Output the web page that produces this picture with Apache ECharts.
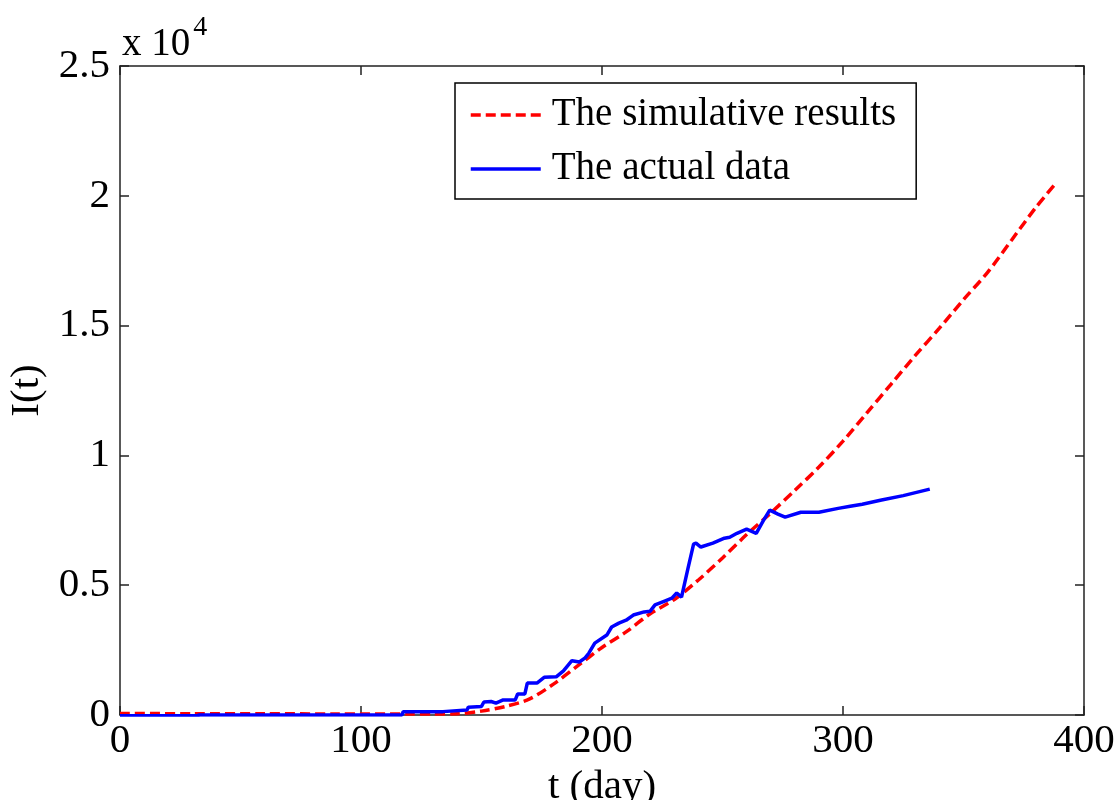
<!DOCTYPE html>
<html>
<head>
<meta charset="utf-8">
<script src="https://cdn.jsdelivr.net/npm/echarts@6/dist/echarts.min.js"></script>
<style>
  html, body { margin: 0; padding: 0; background: #fff; }
  #main { width: 1119px; height: 800px; }
</style>
</head>
<body>
<div id="main"></div>
<script>
// simulated curve: t (day) and I(t)
var simT = [0, 30, 60, 90, 120, 130, 140, 150, 160, 170, 180, 190, 200, 210, 220, 230, 240, 250,
  260, 270, 280, 290, 300, 310, 320, 330, 340, 350, 360, 370, 380, 388];
var simI = [60, 50, 50, 40, 40, 40, 50, 150, 330, 620, 1200, 1900, 2600, 3200, 3900, 4450, 5200, 6050,
  6950, 7780, 8650, 9550, 10550, 11650, 12750, 13850, 14900, 16000, 17050, 18300, 19550, 20450];

// actual data
var actT = [0, 32, 33, 117, 117.5, 134, 134.5, 144, 144.5, 150, 151, 154, 156, 159, 164, 165, 168, 169,
  173, 176, 181, 184, 187.5, 190.6, 193, 194.6, 197, 202, 204, 207, 210, 213, 217.5, 220, 222, 226, 229,
  231, 233, 235.7, 238, 239, 241, 246, 250.8, 253, 256, 260, 264, 267, 269.6, 273, 276, 282.5, 290, 298,
  303, 308, 316, 325, 336];
var actI = [-30, -30, 0, 0, 130, 130, 190, 190, 300, 330, 500, 520, 460, 580, 580, 810, 810, 1230,
  1230, 1450, 1470, 1700, 2090, 2040, 2200, 2390, 2770, 3080, 3390, 3540, 3650, 3850, 3970, 4000, 4240, 4390, 4500,
  4700, 4540, 5660, 6580, 6620, 6470, 6620, 6810, 6850, 7000, 7160, 7000, 7500, 7890, 7740, 7620, 7810, 7810, 7960,
  8040, 8120, 8280, 8450, 8700];

var xTicks = [0, 100, 200, 300, 400];
var yTicks = [0, 0.5, 1, 1.5, 2, 2.5]; // x 10^4

function pairs(xs, ys) {
  var out = [];
  for (var i = 0; i < xs.length; i++) out.push([xs[i], ys[i]]);
  return out;
}

var serif = '"Liberation Serif", "Times New Roman", serif';
var axisCol = "#222";

var chart = echarts.init(document.getElementById("main"));

var baseX = {
  type: "value",
  min: xTicks[0],
  max: xTicks[xTicks.length - 1],
  interval: 100,
  splitLine: { show: false },
  axisLine: { show: true, onZero: false, lineStyle: { color: axisCol, width: 1.5 } },
  axisTick: { show: true, inside: true, length: 9, lineStyle: { color: axisCol, width: 1.5 } }
};
var baseY = {
  type: "value",
  min: 0,
  max: yTicks[yTicks.length - 1] * 10000,
  interval: 5000,
  splitLine: { show: false },
  axisLine: { show: true, onZero: false, lineStyle: { color: axisCol, width: 1.5 } },
  axisTick: { show: true, inside: true, length: 9, lineStyle: { color: axisCol, width: 1.5 } }
};

var option = {
  backgroundColor: "#fff",
  animation: false,
  textStyle: { fontFamily: serif },
  grid: { left: 120, right: 35, top: 66, bottom: 85, containLabel: false, outerBoundsMode: "none" },
  legend: {
    orient: "vertical",
    left: 455,
    top: 83,
    itemWidth: 70,
    itemHeight: 14,
    itemGap: 10,
    padding: [10, 20, 8, 14],
    borderColor: "#000",
    borderWidth: 1.5,
    itemStyle: { opacity: 0 },
    lineStyle: { width: 3.5 },
    textStyle: { fontFamily: serif, fontSize: 39, color: "#000", lineHeight: 44, padding: [0, 0, 0, 6] },
    data: ["The simulative results", "The actual data"]
  },
  xAxis: [
    Object.assign({}, baseX, {
      position: "bottom",
      name: "t (day)",
      nameLocation: "middle",
      nameGap: 46,
      nameTextStyle: { fontFamily: serif, fontSize: 41, color: "#000" },
      axisLabel: { fontFamily: serif, fontSize: 41, color: "#000", margin: 6 }
    }),
    Object.assign({}, baseX, { position: "top", axisLabel: { show: false } })
  ],
  yAxis: [
    Object.assign({}, baseY, {
      position: "left",
      name: "I(t)",
      nameLocation: "middle",
      nameGap: 72,
      nameTextStyle: { fontFamily: serif, fontSize: 41, color: "#000" },
      axisLabel: {
        fontFamily: serif, fontSize: 41, color: "#000", margin: 10,
        formatter: function (v) { return String(v / 10000); }
      }
    }),
    Object.assign({}, baseY, { position: "right", axisLabel: { show: false } })
  ],
  graphic: [
    {
      type: "text",
      left: 122,
      top: 14,
      style: {
        text: "{b|x 10}{s|4}",
        rich: {
          b: { fontFamily: serif, fontSize: 39, fill: "#000", verticalAlign: "bottom", lineHeight: 42 },
          s: { fontFamily: serif, fontSize: 28, fill: "#000", verticalAlign: "top", padding: [0, 0, 22, 3] }
        }
      }
    }
  ],
  series: [
    {
      name: "The simulative results",
      type: "line",
      xAxisIndex: 0,
      yAxisIndex: 0,
      data: pairs(simT, simI),
      showSymbol: false,
      symbol: "none",
      smooth: 0.3,
      z: 2,
      lineStyle: { color: "#ff0000", width: 3.5, type: [10, 5] },
      itemStyle: { color: "#ff0000" }
    },
    {
      name: "The actual data",
      type: "line",
      xAxisIndex: 0,
      yAxisIndex: 0,
      data: pairs(actT, actI),
      showSymbol: false,
      symbol: "none",
      z: 3,
      lineStyle: { color: "#0000ff", width: 3.5 },
      itemStyle: { color: "#0000ff" }
    }
  ]
};

chart.setOption(option);
</script>
</body>
</html>
